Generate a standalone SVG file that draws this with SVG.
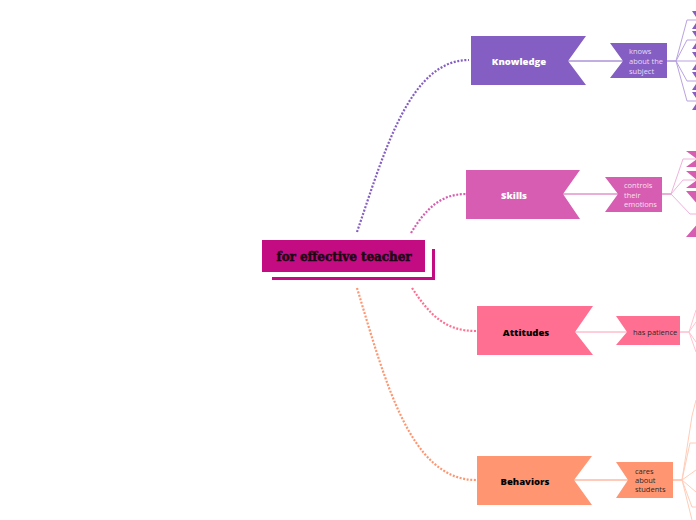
<svg xmlns="http://www.w3.org/2000/svg" width="696" height="520" viewBox="0 0 696 520">
<style>
.main{stroke-width:2.2;stroke-linecap:butt;stroke-dasharray:2 1.6;fill:none}
.lbl{font-family:"Open Sans","DejaVu Sans",sans-serif;font-weight:800;font-size:9.5px;text-anchor:middle;dominant-baseline:central}
.sub{font-family:"Open Sans","DejaVu Sans",sans-serif;font-size:7.5px}
.ln{fill:none;stroke-width:1}
</style>
<rect width="696" height="520" fill="#ffffff"/>
<g id="connectors">
<path class="main" stroke="#845EC2" d="M357,232 C385,150 410,60 469,60"/>
<path class="main" stroke="#D65DB1" d="M411,233 C425,210 440,194 466,194"/>
<path class="main" stroke="#FF6F91" d="M412,288 C430,315 445,331 476,331"/>
<path class="main" stroke="#FF9671" d="M357,288 C385,380 410,480 476,480"/>
<path class="ln" stroke="#845EC2" d="M568,61 H623 M667,61 H676"/>
<path class="ln" stroke="#B9A3E0" d="M676,61 L687,20 H700 M676,61 L687,40 H700 M676,61 H700 M676,61 L687,81 H700 M676,61 L687,101 H700"/>
<path class="ln" stroke="#D65DB1" d="M563,194 H618 M662,194 H671"/>
<path class="ln" stroke="#EFB3DC" d="M671,194 L683,159 H700 M671,194 L683,180 H700 M671,194 L690,214 H700"/>
<path class="ln" stroke="#FF9CB3" d="M575,332 H627 M680,332 H689"/>
<path class="ln" stroke="#FFC4D2" d="M689,332 L696,310 M689,332 L696,322 M689,332 L696,342 M689,332 L696,352"/>
<path class="ln" stroke="#FF9671" d="M574,480 H628 M673,480 H682"/>
<path class="ln" stroke="#FFCDB9" d="M682,480 L692,416 L696,400 M682,480 L690,443 H700 M682,480 L696,470 M682,480 L696,492 M682,480 L692,507 H700 M682,480 L692,520"/>
</g>
<g id="center">
<rect x="262" y="240" width="163" height="32" fill="#C30B82"/>
<path d="M272,278.5 H433.5 V249" fill="none" stroke="#C30B82" stroke-width="3"/>
<text x="344" y="256" font-family="'DejaVu Serif',serif" font-weight="bold" font-size="13" fill="#1e0616" stroke="#1e0616" stroke-width="0.5" text-anchor="middle" dominant-baseline="central" textLength="135" lengthAdjust="spacingAndGlyphs">for effective teacher</text>
</g>
<g id="knowledge">
<polygon points="471,36 586,36 568,61 586,85 471,85" fill="#845EC2"/>
<text class="lbl" x="519" y="61" fill="#ffffff">Knowledge</text>
</g>
<g id="knows">
<polygon points="610,43 667,43 667,78 610,78 623,61" fill="#845EC2"/>
<text class="sub" fill="#E6DCF5"><tspan x="629" y="54">knows</tspan><tspan x="629" y="64">about the</tspan><tspan x="629" y="74">subject</tspan></text>
</g>
<g id="knowledge-children" fill="#845EC2">
<polygon points="692,11 720,11 720,29 692,29 698,20"/>
<polygon points="692,31 720,31 720,49 692,49 698,40"/>
<polygon points="692,52 720,52 720,70 692,70 698,61"/>
<polygon points="692,72 720,72 720,90 692,90 698,81"/>
<polygon points="692,92 720,92 720,110 692,110 698,101"/>
</g>
<g id="skills">
<polygon points="466,170 580,170 563,194 580,219 466,219" fill="#D65DB1"/>
<text class="lbl" x="514" y="195" fill="#ffffff">Skills</text>
</g>
<g id="controls">
<polygon points="605,177 662,177 662,212 605,212 618,194" fill="#D65DB1"/>
<text class="sub" fill="#F8E0F0"><tspan x="624" y="188">controls</tspan><tspan x="624" y="197.5">their</tspan><tspan x="624" y="207">emotions</tspan></text>
</g>
<g id="skills-children" fill="#D65DB1">
<polygon points="686,151 720,151 720,167 686,167 697,159"/>
<polygon points="686,171 720,171 720,188 686,188 697,180"/>
<polygon points="686,191 720,191 720,237 686,237 706,214"/>
</g>
<g id="attitudes">
<polygon points="477,306 593,306 575,332 593,355 477,355" fill="#FF6F91"/>
<text class="lbl" x="526" y="332" fill="#000000">Attitudes</text>
</g>
<g id="patience">
<polygon points="616,316 680,316 680,345 616,345 627,332" fill="#FF6F91"/>
<text class="sub" x="633" y="334.5" fill="#2a2a2a">has patience</text>
</g>
<g id="behaviors">
<polygon points="477,456 592,456 574,480 592,505 477,505" fill="#FF9671"/>
<text class="lbl" x="525" y="481" fill="#000000">Behaviors</text>
</g>
<g id="cares">
<polygon points="616,462 673,462 673,498 616,498 628,480" fill="#FF9671"/>
<text class="sub" fill="#2a2a2a"><tspan x="635" y="474">cares</tspan><tspan x="635" y="483">about</tspan><tspan x="635" y="492">students</tspan></text>
</g>
</svg>
